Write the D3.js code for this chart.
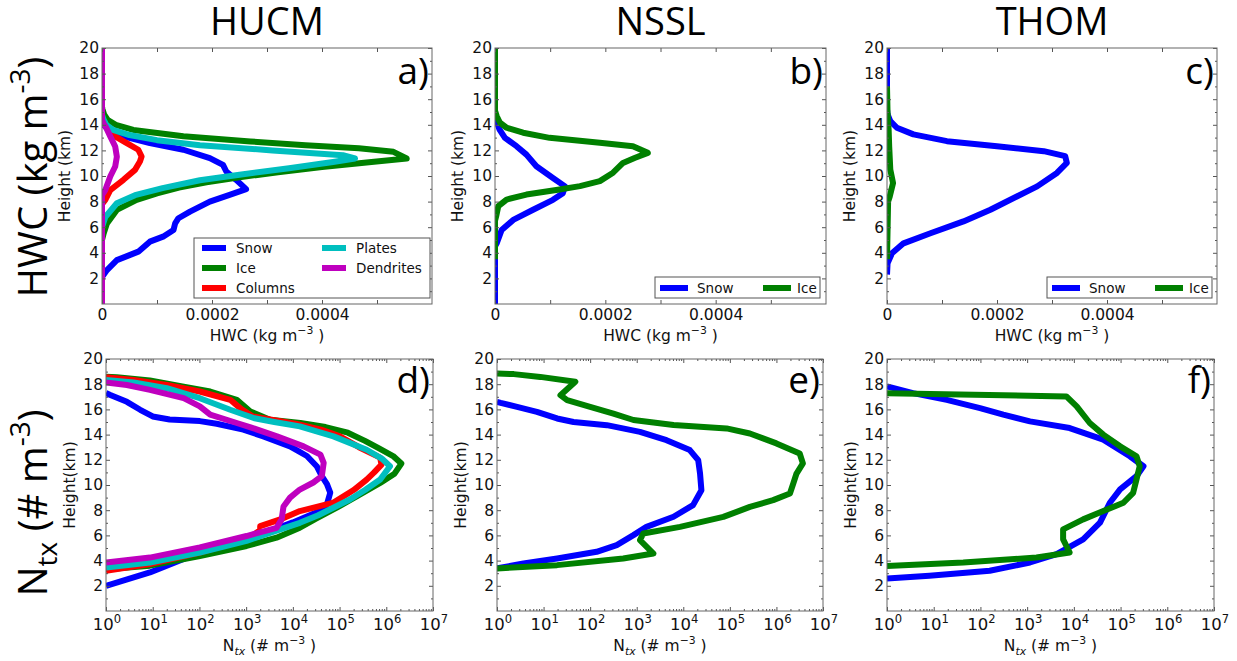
<!DOCTYPE html>
<html>
<head>
<meta charset="utf-8">
<script src="https://cdn.jsdelivr.net/npm/d3@7"></script>
<style>
  body { margin: 0; background: #fff; }
  svg { display: block; }
</style>
</head>
<body>
<svg id="fig" width="1237" height="661"></svg>
<script>
// ---- data (height km, value) ----
const models = ['HUCM', 'NSSL', 'THOM'];
const panelLetters = ['a)', 'b)', 'c)', 'd)', 'e)', 'f)'];
const hucmSpecies = ['Snow', 'Ice', 'Columns', 'Plates', 'Dendrites'];
const bulkSpecies = ['Snow', 'Ice'];
const speciesColor = { Snow: '#0000ff', Ice: '#008000', Columns: '#ff0000', Plates: '#00bfbf', Dendrites: '#bf00bf' };

const heightTicks = [2, 4, 6, 8, 10, 12, 14, 16, 18, 20];
const heightMinor = [1, 3, 5, 7, 9, 11, 13, 15, 17, 19];
const hwcTicks = [0, 0.0002, 0.0004];
const hwcMinor = [0.0001, 0.0003, 0.0005];
const ntxTicks = [1e0, 1e1, 1e2, 1e3, 1e4, 1e5, 1e6, 1e7];
const ntxExponents = ['0', '1', '2', '3', '4', '5', '6', '7'];

// HUCM HWC
const hucmHwcSnow = [[0, 0], [2.1, 0], [2.65, 0.000009], [3.43, 0.000027], [4.09, 0.000066], [4.87, 0.000087],
  [5.26, 0.000111], [5.78, 0.00013], [6.3, 0.000133], [6.7, 0.000139], [7.22, 0.00016], [8.0, 0.000196],
  [8.52, 0.000232], [8.97, 0.000262], [9.7, 0.000244], [10.35, 0.000226], [10.87, 0.00022], [11.4, 0.000196],
  [12.05, 0.000148], [12.57, 0.000087], [13.1, 0.000039], [13.6, 0.000012], [14.0, 0.000003], [14.4, 0], [20, 0]];
const hucmHwcIce = [[0, 0], [5.0, 0], [5.5, 0.000003], [6.3, 0.000009], [7.35, 0.000027], [8.13, 0.000063],
  [8.65, 0.0001], [9.1, 0.00014], [9.5, 0.00019], [9.9, 0.00025], [10.3, 0.00032], [10.7, 0.0004], [11.1, 0.00049],
  [11.37, 0.000554], [11.89, 0.00053], [12.17, 0.000467], [12.41, 0.00037], [12.7, 0.00027], [13.1, 0.000148],
  [13.6, 0.000057], [14.0, 0.000025], [14.4, 0.00001], [14.8, 0.000004], [15.2, 0.000001], [15.4, 0], [20, 0]];
const hucmHwcColumns = [[0, 0], [7.8, 0], [8.13, 0.000006], [8.9, 0.000015], [9.7, 0.000039], [10.48, 0.00006],
  [11.13, 0.000069], [11.52, 0.000072], [12.05, 0.000066], [12.57, 0.000045], [13.1, 0.000024], [13.6, 0.000012],
  [14.0, 0.000006], [14.3, 0], [20, 0]];
const hucmHwcPlates = [[0, 0], [6.0, 0], [6.8, 0.000006], [7.87, 0.000027], [8.5, 0.00006], [9.05, 0.00011],
  [9.67, 0.000178], [10.1, 0.00025], [10.6, 0.00034], [11.1, 0.00042], [11.37, 0.00046], [11.63, 0.000438],
  [12.0, 0.00031], [12.41, 0.000178], [12.8, 0.0001], [13.2, 0.00005], [13.6, 0.00002], [14.0, 0.000008],
  [14.4, 0.000003], [14.8, 0], [20, 0]];
const hucmHwcDendrites = [[0, 0], [8.5, 0], [8.9, 0.000006], [9.96, 0.000015], [10.74, 0.000024], [11.5, 0.000027],
  [12.3, 0.000024], [13.1, 0.000015], [13.74, 0.000008], [14.1, 0.000003], [14.4, 0], [20, 0]];

// NSSL HWC
const nsslHwcSnow = [[0, 0], [4.5, 0], [4.74, 0.000003], [5.78, 0.000012], [6.57, 0.000033], [7.36, 0.000069],
  [8.14, 0.000105], [8.66, 0.000123], [9.19, 0.000127], [9.84, 0.000105], [10.76, 0.000075], [11.67, 0.000057],
  [12.33, 0.000039], [12.98, 0.000018], [13.64, 0.000008], [14.29, 0.000003], [14.6, 0], [20, 0]];
const nsslHwcIce = [[3.5, 0], [6.5, 0], [6.83, 0.000002], [7.64, 0.000006], [8.16, 0.000021], [8.55, 0.000057],
  [8.95, 0.000117], [9.21, 0.000154], [9.6, 0.00019], [10.26, 0.000214], [11.02, 0.000232], [11.41, 0.000253],
  [11.81, 0.000277], [12.33, 0.00025], [12.59, 0.00019], [12.98, 0.000099], [13.38, 0.000051], [13.77, 0.000021],
  [14.16, 0.000009], [14.69, 0.000003], [15.1, 0], [20, 0]];

// THOM HWC
const thomHwcSnow = [[2.3, 0], [3.17, 0.000001], [3.96, 0.000009], [4.74, 0.00003], [5.53, 0.000079],
  [6.45, 0.000139], [7.36, 0.000188], [8.4, 0.000236], [9.19, 0.000273], [10.24, 0.000309], [11.02, 0.000327],
  [11.55, 0.000324], [11.94, 0.000285], [12.33, 0.0002], [12.72, 0.000109], [13.25, 0.000048], [13.77, 0.000018],
  [14.29, 0.000006], [14.82, 0.000001], [15.2, 0], [20, 0]];
const thomHwcIce = [[3.5, 0], [8.0, 0.000002], [8.4, 0.000005], [9.45, 0.000011], [10.5, 0.000006],
  [12.3, 0.000004], [13.6, 0.000003], [14.9, 0.000001], [17, 0]];

// HUCM Ntx
const hucmNtxSnow = [[2.0, 1], [3.06, 8.7], [4.64, 102], [5.5, 600], [6.3, 3000], [7.03, 10000], [8.07, 45700],
  [8.6, 55000], [9.39, 63100], [10.07, 53700], [10.7, 41700], [11.49, 32400], [12.3, 20000], [13.07, 8710],
  [13.86, 2340], [14.39, 871], [14.86, 234], [15.07, 102], [15.2, 23], [15.44, 10], [15.97, 5.4], [16.6, 2.8],
  [17.16, 1.2], [17.3, 1]];
const hucmNtxIce = [[3.32, 1], [3.6, 8.7], [4.37, 102], [5.16, 1020], [5.82, 4470], [6.61, 14100], [7.3, 30000],
  [8.2, 87100], [9.26, 2.75e5], [10.17, 7.4e5], [10.9, 1.5e6], [11.7, 2.1e6], [12.3, 1.4e6], [12.9, 7e5],
  [13.5, 3.5e5], [14.15, 1.5e5], [14.6, 50000], [14.92, 14500], [15.18, 3240], [15.84, 1230], [16.76, 631],
  [17.42, 170], [17.81, 46], [18.29, 8.7], [18.55, 1.7], [18.6, 1]];
const hucmNtxColumns = [[3.19, 1], [3.72, 8.7], [4.64, 102], [5.69, 1020], [6.4, 1995], [6.74, 2000],
  [7.27, 5370], [7.93, 14100], [8.6, 74100], [9.6, 2e5], [10.43, 3.8e5], [11.0, 5.5e5], [11.62, 7.9e5],
  [12.17, 7.4e5], [13.0, 2.6e5], [13.86, 1.02e5], [14.4, 40000], [14.85, 12000], [15.18, 3500], [15.44, 1400],
  [16.0, 800], [16.76, 457], [17.42, 102], [17.94, 20], [18.34, 3.9], [18.55, 1]];
const hucmNtxPlates = [[3.45, 1], [3.85, 8.7], [4.64, 102], [5.56, 1020], [6.48, 5370], [7.0, 14100],
  [7.6, 35000], [8.85, 1.66e5], [9.6, 3.5e5], [10.43, 7.4e5], [11.49, 1.2e6], [12.1, 8e5], [12.8, 3.8e5],
  [13.86, 74100], [14.65, 14100], [15.0, 4000], [15.3, 1500], [15.97, 457], [16.89, 102], [17.68, 20],
  [18.13, 3.9], [18.34, 1]];
const hucmNtxDendrites = [[3.85, 1], [4.24, 8.7], [5.05, 102], [5.95, 1020], [6.6, 4470], [7.27, 5750],
  [8.3, 6310], [9.0, 8710], [9.64, 14100], [10.2, 27500], [10.7, 41700], [11.75, 45700], [12.41, 38900],
  [13.07, 17000], [13.86, 4570], [14.6, 1200], [14.92, 631], [15.58, 170], [16.24, 102], [16.89, 46],
  [17.55, 8.7], [17.94, 2.8], [18.13, 1]];

// NSSL Ntx
const nsslNtxSnow = [[3.38, 1], [3.78, 3.7], [4.17, 19.5], [4.7, 138], [5.23, 372], [6.02, 851], [6.68, 1620],
  [7.48, 6170], [8.4, 16200], [9.59, 24500], [10.91, 22900], [11.97, 20900], [12.77, 13800], [13.56, 4370],
  [14.22, 1175], [14.75, 229], [15.0, 44], [15.28, 19.5], [15.81, 7.2], [16.2, 2.7], [16.52, 1.2], [16.6, 1]];
const nsslNtxIce = [[3.38, 1], [3.64, 19.5], [4.17, 513], [4.56, 2290], [5.63, 1175], [6.15, 1380],
  [6.68, 8510], [7.47, 72400], [8.26, 2.69e5], [8.8, 8.5e5], [9.33, 1.95e6], [10.12, 2.3e6], [10.91, 2.7e6],
  [11.71, 3.7e6], [12.5, 3.16e6], [13.3, 1e6], [14.09, 2.69e5], [14.49, 85100], [14.76, 6170], [15.16, 851],
  [15.67, 316], [16.2, 100], [16.74, 32], [17.13, 23], [18.19, 48], [18.58, 8.5], [18.8, 2.3], [18.85, 1]];

// THOM Ntx
const thomNtxSnow = [[2.58, 1], [2.79, 8.1], [3.19, 158], [3.85, 1150], [4.51, 4270], [5.69, 15800],
  [7.01, 36300], [8.59, 58900], [9.65, 97700], [10.7, 2.19e5], [11.49, 3.09e5], [12.28, 1.58e5], [13.6, 42700],
  [14.52, 8130], [15.05, 1150], [15.58, 309], [16.1, 98], [16.76, 19], [17.29, 3.6], [17.82, 1]];
const thomNtxIce = [[3.58, 1], [3.85, 43], [4.24, 1585], [4.64, 8130], [5.69, 5890], [6.48, 5890],
  [7.27, 15800], [7.93, 42700], [8.59, 1.15e5], [9.38, 1.86e5], [10.44, 2.19e5], [11.49, 2.57e5],
  [12.28, 2.19e5], [13.07, 97700], [14.0, 42700], [14.92, 21900], [16.24, 11500], [17.03, 6920], [17.29, 1]];

// ---- layout ----
const svg = d3.select('#fig');
const tickFont = 'DejaVu Sans, sans-serif';
const bigFont = 'Open Sans, sans-serif';

const rows = [
  { y0: 48, y1: 304, lefts: [102, 495, 887], widths: [330, 331, 330], kind: 'hwc' },
  { y0: 359, y1: 611, lefts: [106, 497, 887], widths: [327, 326, 327], kind: 'ntx' }
];

const panelSeries = [
  [hucmHwcSnow, hucmHwcIce, hucmHwcColumns, hucmHwcPlates, hucmHwcDendrites],
  [nsslHwcSnow, nsslHwcIce],
  [thomHwcSnow, thomHwcIce],
  [hucmNtxSnow, hucmNtxIce, hucmNtxColumns, hucmNtxPlates, hucmNtxDendrites],
  [nsslNtxSnow, nsslNtxIce],
  [thomNtxSnow, thomNtxIce]
];

// writes text made of parts: {t, sup, sub, it}
function richText(sel, parts, size) {
  let shift = 0;
  parts.forEach(p => {
    const target = p.sup ? -size * 0.42 : p.sub ? size * 0.25 : 0;
    const ts = sel.append('tspan').text(p.t).attr('dy', target - shift);
    if (p.sup || p.sub) ts.attr('font-size', size * 0.7);
    if (p.it) ts.attr('font-style', 'italic');
    shift = target;
  });
}

const defs = svg.append('defs');

rows.forEach((row, r) => {
  row.lefts.forEach((left, c) => {
    const idx = r * 3 + c;
    const w = row.widths[c], h = row.y1 - row.y0;
    const g = svg.append('g').attr('transform', `translate(${left},${row.y0})`);
    const x = row.kind === 'hwc'
      ? d3.scaleLinear().domain([0, 0.0006]).range([0, w])
      : d3.scaleLog().domain([1, 1e7]).range([0, w]);
    const y = d3.scaleLinear().domain([0, 20]).range([h, 0]);

    defs.append('clipPath').attr('id', 'clip' + idx)
      .append('rect').attr('width', w).attr('height', h);

    // curves
    const names = c === 0 ? hucmSpecies : bulkSpecies;
    const line = d3.line().x(d => x(d[1])).y(d => y(d[0]));
    const lines = g.append('g').attr('clip-path', `url(#clip${idx})`);
    panelSeries[idx].forEach((s, i) => {
      lines.append('path').datum(s).attr('d', line)
        .attr('fill', 'none').attr('stroke', speciesColor[names[i]])
        .attr('stroke-width', 6).attr('stroke-linejoin', 'round').attr('stroke-linecap', 'butt');
    });

    // ticks (inward, all four sides)
    const tickStyle = a => a.selectAll('.domain').remove();
    const tickCol = '#555';
    g.append('g').call(d3.axisLeft(y).tickValues(heightTicks).tickSize(-4).tickPadding(3).tickFormat(d3.format('d')))
      .call(tickStyle).call(a => a.selectAll('text').attr('font-family', tickFont).attr('font-size', 15.5).attr('fill', '#111'));
    g.append('g').call(d3.axisLeft(y).tickValues(heightMinor).tickSize(-2).tickFormat('')).call(tickStyle);
    g.append('g').attr('transform', `translate(${w},0)`)
      .call(d3.axisRight(y).tickValues(heightTicks).tickSize(-4).tickFormat('')).call(tickStyle);
    g.append('g').attr('transform', `translate(${w},0)`)
      .call(d3.axisRight(y).tickValues(heightMinor).tickSize(-2).tickFormat('')).call(tickStyle);

    if (row.kind === 'hwc') {
      g.append('g').attr('transform', `translate(0,${h})`)
        .call(d3.axisBottom(x).tickValues(hwcTicks).tickSize(-4).tickPadding(5).tickFormat(d => d === 0 ? '0' : d3.format('.4f')(d)))
        .call(tickStyle).call(a => a.selectAll('text').attr('font-family', tickFont).attr('font-size', 15.5).attr('fill', '#111'));
      g.append('g').attr('transform', `translate(0,${h})`)
        .call(d3.axisBottom(x).tickValues(hwcMinor).tickSize(-4).tickFormat('')).call(tickStyle);
      g.append('g').call(d3.axisTop(x).tickValues(hwcTicks.concat(hwcMinor)).tickSize(-4).tickFormat('')).call(tickStyle);
    } else {
      const minor = x.ticks().filter(v => !ntxTicks.includes(v));
      g.append('g').attr('transform', `translate(0,${h})`)
        .call(d3.axisBottom(x).tickValues(ntxTicks).tickSize(-4).tickFormat('')).call(tickStyle);
      g.append('g').attr('transform', `translate(0,${h})`)
        .call(d3.axisBottom(x).tickValues(minor).tickSize(-2).tickFormat('')).call(tickStyle);
      g.append('g').call(d3.axisTop(x).tickValues(ntxTicks).tickSize(-4).tickFormat('')).call(tickStyle);
      g.append('g').call(d3.axisTop(x).tickValues(minor).tickSize(-2).tickFormat('')).call(tickStyle);
      ntxTicks.forEach((v, i) => {
        const t = g.append('text').attr('x', x(v) + 1).attr('y', h + 19)
          .attr('text-anchor', 'middle').attr('font-family', tickFont).attr('font-size', 16.5).attr('fill', '#111');
        richText(t, [{ t: '10' }, { t: ntxExponents[i], sup: true }], 16.5);
      });
    }
    g.selectAll('.tick line').attr('stroke', tickCol);

    // frame
    g.append('rect').attr('width', w).attr('height', h)
      .attr('fill', 'none').attr('stroke', '#666').attr('stroke-width', 1);

    // axis labels
    g.append('text')
      .attr('transform', `translate(${r === 0 ? -32 : -31},${h / 2}) rotate(-90)`)
      .attr('text-anchor', 'middle').attr('font-family', tickFont).attr('font-size', 15.5).attr('fill', '#111')
      .text(r === 0 ? 'Height (km)' : 'Height(km)');
    const xl = g.append('text').attr('x', w / 2).attr('y', r === 0 ? h + 37 : h + 40)
      .attr('text-anchor', 'middle').attr('font-family', tickFont).attr('font-size', 15.5).attr('fill', '#111');
    if (r === 0) richText(xl, [{ t: 'HWC (kg m' }, { t: '\u22123', sup: true }, { t: ' )' }], 15.5);
    else richText(xl, [{ t: 'N' }, { t: 'tx', sub: true, it: true }, { t: ' (# m' }, { t: '\u22123', sup: true }, { t: ' )' }], 15.5);

    // panel letter
    g.append('text').attr('x', w - 3).attr('y', r === 0 ? 36 : 34)
      .attr('text-anchor', 'end').attr('font-family', bigFont).attr('font-size', 37).attr('fill', '#000')
      .text(panelLetters[idx]);

    // legends (top row only)
    if (r === 0) {
      const lg = g.append('g');
      if (c === 0) {
        lg.append('rect').attr('x', 92).attr('y', 190).attr('width', 236).attr('height', 60)
          .attr('fill', '#fff').attr('stroke', '#555');
        names.forEach((n, i) => {
          const col = Math.floor(i / 3), rw = i % 3;
          const lx = 100 + col * 120, ly = 200 + rw * 20;
          lg.append('line').attr('x1', lx).attr('x2', lx + 24).attr('y1', ly).attr('y2', ly)
            .attr('stroke', speciesColor[n]).attr('stroke-width', 6);
          lg.append('text').attr('x', lx + 34).attr('y', ly + 5).attr('font-family', tickFont)
            .attr('font-size', 13.5).attr('fill', '#111').text(n);
        });
      } else {
        lg.append('rect').attr('x', 160).attr('y', 229).attr('width', 165).attr('height', 21)
          .attr('fill', '#fff').attr('stroke', '#555');
        names.forEach((n, i) => {
          const lx = 165 + i * 103, ly = 240;
          lg.append('line').attr('x1', lx).attr('x2', lx + 28).attr('y1', ly).attr('y2', ly)
            .attr('stroke', speciesColor[n]).attr('stroke-width', 6);
          lg.append('text').attr('x', lx + 37 - i * 3).attr('y', ly + 5).attr('font-family', tickFont)
            .attr('font-size', 13.5).attr('fill', '#111').text(n);
        });
      }
    }

    // column titles
    if (r === 0) {
      svg.append('text').attr('x', left + w / 2).attr('y', 35).attr('text-anchor', 'middle')
        .attr('font-family', bigFont).attr('font-size', 38).attr('fill', '#000').text(models[c]);
    }
  });
});

// row labels
const rl1 = svg.append('text').attr('transform', 'translate(47,177) rotate(-90)')
  .attr('text-anchor', 'middle').attr('font-family', bigFont).attr('font-size', 40).attr('fill', '#000');
richText(rl1, [{ t: 'HWC (kg m' }, { t: '-3', sup: true }, { t: ')' }], 40);
const rl2 = svg.append('text').attr('transform', 'translate(47,503) rotate(-90)')
  .attr('text-anchor', 'middle').attr('font-family', bigFont).attr('font-size', 40).attr('fill', '#000');
richText(rl2, [{ t: 'N' }, { t: 'tx', sub: true }, { t: ' (# m' }, { t: '-3', sup: true }, { t: ')' }], 40);
</script>
</body>
</html>
